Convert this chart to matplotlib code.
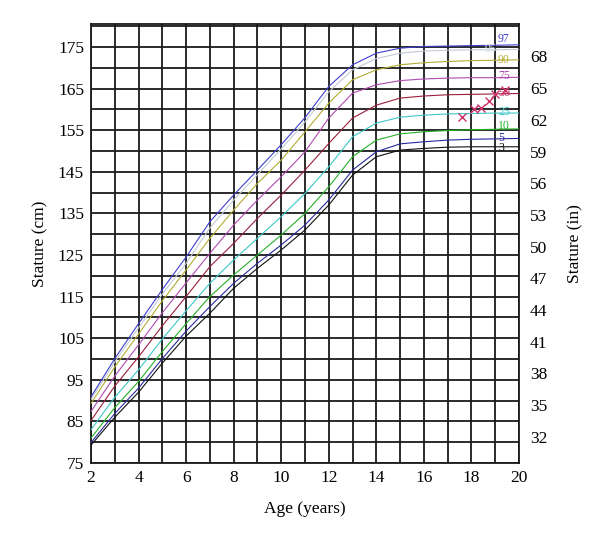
import matplotlib
matplotlib.use("Agg")
import matplotlib.pyplot as plt

# age in years
ages = [2, 3, 4, 5, 6, 7, 8, 9, 10, 11, 12, 13, 14, 15, 16, 17, 18, 19, 20]

# stature (cm), one list per percentile
p3 = [79.3, 86.0, 92.0, 99.0, 105.5, 111.0, 117.0, 121.8, 126.2, 131.0, 137.0, 144.2, 148.6, 150.2, 150.6, 150.9, 151.0, 151.0, 151.0]
p5 = [79.9, 86.9, 93.0, 100.1, 106.7, 112.6, 118.2, 123.0, 127.4, 132.2, 138.2, 145.4, 149.8, 151.7, 152.2, 152.6, 152.8, 152.9, 153.0]
p10 = [81.0, 88.3, 94.6, 101.8, 108.5, 115.0, 120.2, 125.0, 129.8, 135.0, 141.4, 148.6, 152.6, 154.1, 154.6, 154.9, 155.1, 155.2, 155.3]
p25 = [83.0, 90.8, 97.4, 104.8, 111.6, 118.2, 123.8, 129.0, 134.2, 139.8, 146.2, 153.4, 156.7, 158.1, 158.6, 158.9, 159.0, 159.1, 159.1]
p50 = [85.2, 93.5, 100.5, 108.0, 115.0, 122.2, 127.8, 133.8, 139.4, 145.4, 151.8, 157.9, 161.0, 162.7, 163.2, 163.5, 163.6, 163.7, 163.8]
p75 = [87.4, 95.9, 103.4, 111.1, 118.3, 125.4, 132.2, 138.2, 143.8, 149.8, 157.9, 163.9, 165.9, 166.9, 167.3, 167.5, 167.6, 167.6, 167.7]
p90 = [89.3, 98.1, 106.0, 114.0, 121.4, 129.0, 135.8, 142.2, 147.8, 154.6, 161.5, 167.1, 169.5, 170.7, 171.2, 171.5, 171.7, 171.8, 171.9]
p95 = [90.3, 99.3, 107.5, 115.6, 123.0, 131.5, 138.2, 144.3, 150.5, 157.0, 164.2, 169.5, 172.2, 173.5, 174.0, 174.2, 174.3, 174.3, 174.4]
p97 = [90.9, 100.1, 108.5, 116.7, 124.5, 133.0, 139.4, 145.4, 151.5, 158.0, 165.5, 170.7, 173.5, 174.7, 175.1, 175.2, 175.3, 175.4, 175.5]

curves = [
    ("3", p3, "#111111"),
    ("5", p5, "#2a2a9c"),
    ("10", p10, "#27b02a"),
    ("25", p25, "#3fc6c6"),
    ("50", p50, "#9b1f3c"),
    ("75", p75, "#b04ab0"),
    ("90", p90, "#b3ad35"),
    ("95", p95, "#c3cbd6"),
    ("97", p97, "#3f3fcf"),
]
label_col = {"3": "#111111", "5": "#2a2a9c", "10": "#27b02a", "25": "#3fc6c6",
             "50": "#c8306a", "75": "#b04ab0", "90": "#b3ad35", "95": "#d6dbe2", "97": "#3f3fcf"}
# small nudges so the tags sit like in the original
label_dy = {"3": -0.4, "5": 0.2, "10": 0.7, "25": 0.3, "50": 0.1, "75": 0.4,
            "90": 0.0, "95": 0.2, "97": 1.3}
label_x = {"95": 18.55}

# measured points of the patient
pt_age = [17.6, 18.1, 18.4, 18.75, 19.0, 19.4]
pt_cm = [158.1, 160.0, 160.4, 162.1, 163.6, 164.7]

cm_ticks = list(range(75, 176, 10))
in_ticks = list(range(32, 69, 3))

plt.rcParams['font.family'] = ['Liberation Serif', 'DejaVu Serif']

fig = plt.figure(figsize=(6.0, 5.41), dpi=100)
ax = fig.add_axes([0.1517, 0.1442, 0.7133, 0.8114])

for name, vals, col in curves:
    ax.plot(ages, vals, color=col, lw=0.8, zorder=3)
    ax.text(label_x.get(name, 19.12), vals[-1] + label_dy[name], name,
            color=label_col[name], fontsize=8.5, ha="left", va="center", zorder=4)

ax.plot(pt_age, pt_cm, linestyle="none", marker="x", color="#d0306a",
        markersize=5.5, mew=1.0, zorder=5)

ax.set_xlim(2, 20)
ax.set_ylim(75, 180.5)
ax.set_xticks(range(2, 21, 2))
ax.set_xticks(range(3, 20, 2), minor=True)
ax.set_yticks(cm_ticks)
ax.set_yticks(range(80, 181, 10), minor=True)
ax.grid(True, which="both", color="#1a1a1a", lw=1.3, zorder=1)
ax.tick_params(which="both", length=0, labelsize=12.5, pad=5)
for s in ax.spines.values():
    s.set_linewidth(1.3)
    s.set_color("#1a1a1a")
ax.set_xlabel("Age (years)", fontsize=12.5, labelpad=11)
ax.set_ylabel("Stature (cm)", fontsize=12.5, labelpad=7)

ax2 = ax.twinx()
ax2.set_ylim(75 / 2.54, 180.5 / 2.54)
ax2.set_yticks(in_ticks)
ax2.tick_params(length=0, labelsize=12.5, pad=8)
ax2.set_ylabel("Stature (in)", fontsize=12.5, labelpad=14)
for s in ax2.spines.values():
    s.set_visible(False)

fig.savefig("out.png", dpi=100)
